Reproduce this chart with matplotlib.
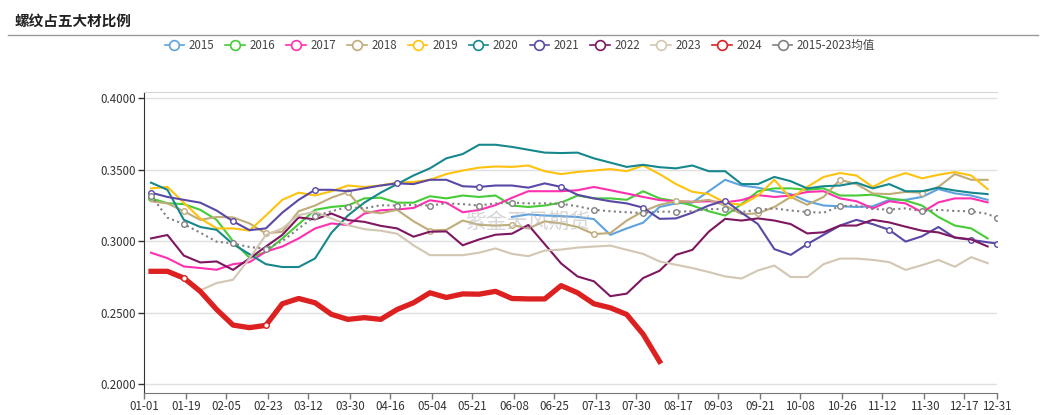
import numpy as np
import pandas as pd
import matplotlib
matplotlib.use('Agg')
from matplotlib import pyplot as plt
from matplotlib.lines import Line2D

plt.rcParams['font.family'] = ['Noto Sans CJK SC', 'DejaVu Sans']

# 周度数据（每年 52 周 + 年末一点）
week_days = np.append(np.arange(52) * 7 + 3, 364)

tick_labels = ['01-01', '01-19', '02-05', '02-23', '03-12', '03-30', '04-16', '05-04',
               '05-21', '06-08', '06-25', '07-13', '07-30', '08-17', '09-03', '09-21',
               '10-08', '10-26', '11-12', '11-30', '12-17', '12-31']

y2015 = [None] * 22 + [0.317, 0.3188, 0.318, 0.3176, 0.317, 0.3155, 0.3045, 0.309, 0.313, 0.324,
                       0.3265, 0.327, 0.335, 0.343, 0.339, 0.3375, 0.335, 0.333, 0.328, 0.325,
                       0.3245, 0.324, 0.3245, 0.329, 0.329, 0.331, 0.3365, 0.3335, 0.332, 0.329, None]
y2016 = [0.330, 0.3266, 0.326, 0.322, 0.315, 0.300, 0.2885, 0.2925, 0.302, 0.312, 0.322, 0.324,
         0.325, 0.330, 0.3305, 0.327, 0.327, 0.3315, 0.330, 0.332, 0.331, 0.332, 0.325, 0.324,
         0.325, 0.327, 0.332, 0.330, 0.330, 0.329, 0.335, 0.330, 0.328, 0.325, 0.321, 0.318,
         0.326, 0.335, 0.337, 0.337, 0.336, 0.337, 0.332, 0.332, 0.3326, 0.330, 0.3285, 0.325,
         0.317, 0.311, 0.309, 0.302, None]
y2017 = [0.292, 0.2882, 0.2824, 0.2813, 0.2801, 0.284, 0.2854, 0.2928, 0.2963, 0.302, 0.309, 0.3125,
         0.3113, 0.3194, 0.3217, 0.3222, 0.3233, 0.3287, 0.327, 0.3203, 0.3219, 0.3253, 0.3304, 0.335,
         0.335, 0.335, 0.3357, 0.338, 0.3357, 0.3334, 0.331, 0.3288, 0.328, 0.3276, 0.328, 0.3272,
         0.3288, 0.3323, 0.331, 0.332, 0.3345, 0.335, 0.330, 0.328, 0.323, 0.328, 0.3265, 0.3203,
         0.3272, 0.330, 0.330, 0.3272, None]
y2018 = [0.328, 0.3265, 0.321, 0.315, 0.317, 0.3167, 0.3125, 0.3055, 0.3067, 0.321, 0.325, 0.3305,
         0.3345, 0.321, 0.3196, 0.322, 0.314, 0.3075, 0.308, 0.3145, 0.3115, 0.311, 0.3115, 0.309,
         0.314, 0.3125, 0.310, 0.305, 0.3058, 0.3145, 0.321, 0.3255, 0.328, 0.3276, 0.329, 0.325,
         0.319, 0.3195, 0.324, 0.331, 0.3255, 0.331, 0.343, 0.340, 0.3334, 0.333, 0.3345, 0.334,
         0.338, 0.347, 0.343, 0.343, None]
y2019 = [0.337, 0.338, 0.327, 0.316, 0.309, 0.309, 0.3075, 0.318, 0.329, 0.334, 0.332, 0.335,
         0.339, 0.338, 0.339, 0.341, 0.3415, 0.343, 0.347, 0.3495, 0.3515, 0.3523, 0.352, 0.353,
         0.349, 0.347, 0.3485, 0.3495, 0.3505, 0.349, 0.353, 0.347, 0.340, 0.3346, 0.333, 0.327,
         0.3255, 0.332, 0.343, 0.330, 0.338, 0.345, 0.3477, 0.346, 0.338, 0.344, 0.3477, 0.344,
         0.3465, 0.3484, 0.346, 0.3365, None]
y2020 = [0.341, 0.336, 0.315, 0.310, 0.308, 0.298, 0.291, 0.284, 0.282, 0.282, 0.288, 0.306,
         0.318, 0.327, 0.334, 0.340, 0.346, 0.351, 0.358, 0.361, 0.3675, 0.3675, 0.366, 0.364,
         0.362, 0.3617, 0.362, 0.358, 0.355, 0.352, 0.3535, 0.3518, 0.351, 0.353, 0.349, 0.349,
         0.340, 0.340, 0.345, 0.342, 0.337, 0.3385, 0.339, 0.341, 0.337, 0.340, 0.335, 0.335,
         0.3375, 0.3355, 0.334, 0.333, None]
y2021 = [0.334, 0.331, 0.329, 0.327, 0.3215, 0.314, 0.3078, 0.309, 0.320, 0.329, 0.336, 0.336,
         0.335, 0.337, 0.339, 0.3405, 0.340, 0.343, 0.343, 0.3385, 0.338, 0.339, 0.339, 0.3375,
         0.3405, 0.338, 0.3325, 0.330, 0.328, 0.3265, 0.3235, 0.3157, 0.316, 0.320, 0.325, 0.3285,
         0.320, 0.312, 0.2945, 0.2905, 0.298, 0.3045, 0.311, 0.315, 0.312, 0.308, 0.2998, 0.3035,
         0.310, 0.3025, 0.301, 0.2993, 0.2984]
y2022 = [0.302, 0.3044, 0.290, 0.2852, 0.2859, 0.280, 0.288, 0.2963, 0.3044, 0.3167, 0.3153, 0.3194,
         0.3148, 0.3136, 0.3108, 0.309, 0.3032, 0.3067, 0.3069, 0.2972, 0.3013, 0.3046, 0.3053, 0.3114,
         0.298, 0.2845, 0.2754, 0.272, 0.2616, 0.2634, 0.2743, 0.2794, 0.2905, 0.294, 0.3067, 0.3157,
         0.3145, 0.316, 0.3145, 0.312, 0.3055, 0.3063, 0.311, 0.311, 0.315, 0.3132, 0.3102, 0.3074,
         0.3062, 0.3027, 0.3013, 0.2964, None]
y2023 = [0.279, 0.278, 0.273, 0.2657, 0.2708, 0.2731, 0.288, 0.3044, 0.309, 0.3183, 0.3206, 0.316,
         0.3113, 0.3085, 0.3074, 0.3053, 0.2972, 0.2903, 0.2903, 0.2903, 0.292, 0.295, 0.2912, 0.2896,
         0.2935, 0.2942, 0.2956, 0.2963, 0.297, 0.294, 0.2912, 0.2859, 0.2836, 0.2813, 0.2785, 0.2754,
         0.274, 0.2796, 0.283, 0.275, 0.275, 0.284, 0.2879, 0.2879, 0.287, 0.2854, 0.280, 0.2833,
         0.287, 0.2822, 0.2889, 0.2847, None]
y2024 = [0.279, 0.279, 0.2743, 0.265, 0.2523, 0.2414, 0.2396, 0.2412, 0.2563, 0.260, 0.257, 0.2489,
         0.2454, 0.2466, 0.2454, 0.2523, 0.257, 0.264, 0.2607, 0.2632, 0.263, 0.265, 0.260, 0.2597,
         0.2597, 0.269, 0.264, 0.2563, 0.2535, 0.2488, 0.235, 0.216] + [None] * 21
y_avg = [0.332, 0.3165, 0.312, 0.306, 0.2997, 0.2985, 0.296, 0.2948, 0.300, 0.309, 0.3175, 0.321,
         0.324, 0.323, 0.3252, 0.325, 0.3255, 0.325, 0.3265, 0.326, 0.325, 0.3265, 0.327, 0.3265,
         0.3265, 0.3262, 0.3245, 0.322, 0.321, 0.3203, 0.3198, 0.3207, 0.3207, 0.321, 0.3225, 0.3225,
         0.3205, 0.322, 0.323, 0.3215, 0.3205, 0.320, 0.3245, 0.325, 0.3225, 0.3222, 0.323, 0.321,
         0.322, 0.3212, 0.321, 0.3192, 0.316]

series = [
    ('2015', y2015, '#5fa2e0'),
    ('2016', y2016, '#46cc38'),
    ('2017', y2017, '#ff30b0'),
    ('2018', y2018, '#bfac78'),
    ('2019', y2019, '#ffc20e'),
    ('2020', y2020, '#16878c'),
    ('2021', y2021, '#5a48a6'),
    ('2022', y2022, '#7e1660'),
    ('2023', y2023, '#d3c6b2'),
    ('2024', y2024, '#dd2020'),
    ('2015-2023均值', y_avg, '#808080'),
]

# 有空心点标记的位置
marks = {
    '2016': [0],
    '2018': [2, 7, 12, 17, 22, 27, 32, 37, 42, 47],
    '2021': [0, 5, 10, 15, 20, 25, 30, 35, 40, 45, 50, 52],
    '2024': [2, 7],
    '2015-2023均值': [0, 2, 5, 7, 10, 12, 15, 17, 20, 22, 25, 27, 30, 32, 35, 37, 40, 42,
                   45, 47, 50, 52],
}

tick_days = [pd.Timestamp('2023-' + t).dayofyear - 1 for t in tick_labels]

fig = plt.figure(figsize=(10.44, 4.15), dpi=100)
ax = fig.add_axes([144 / 1044, 1 - 393.3 / 415, (997 - 144) / 1044, (393.3 - 91.7) / 415])

handles = []
for name, vals, color in series:
    y = np.array([np.nan if v is None else v for v in vals], dtype=float)
    lw = 1.5
    ls = '-'
    z = 3
    if name == '2024':
        lw = 3.8
        z = 6
    if name == '2015-2023均值':
        ls = (0, (1, 1.6))
        z = 5
    kw = {}
    if name in marks:
        kw = dict(marker='o', markevery=marks[name], markersize=4,
                  markerfacecolor='white', markeredgecolor=color, markeredgewidth=1)
    ax.plot(week_days, y, color=color, lw=lw, linestyle=ls, zorder=z,
            solid_joinstyle='round', **kw)
    handles.append(Line2D([], [], color=color, lw=1.2, marker='o', markersize=7,
                          markerfacecolor='white', markeredgecolor=color,
                          markeredgewidth=1.2))

ax.set_xlim(0, 364)
ax.set_ylim(0.1937, 0.4046)
ax.set_xticks(tick_days)
ax.set_xticklabels(tick_labels)
ax.set_yticks([0.20, 0.25, 0.30, 0.35, 0.40])
ax.set_yticklabels(['%.4f' % v for v in [0.20, 0.25, 0.30, 0.35, 0.40]])
ax.tick_params(axis='both', labelsize=8.3, colors='#333333', length=4, width=1, pad=2)
ax.tick_params(axis='x', colors='#777777', labelcolor='#333333', length=4, pad=1)
ax.grid(axis='y', color='#e0e0e0', lw=1)
ax.set_axisbelow(True)
ax.spines['right'].set_visible(False)
ax.spines['top'].set_color('#d6d6d6')
ax.spines['left'].set_color('#333333')
ax.spines['bottom'].set_color('#777777')

ax.text(0.45, 0.57, '紫金天风期货', transform=ax.transAxes, fontsize=15,
        color='#bbbbbb', alpha=0.6, ha='center', va='center', zorder=7)

fig.text(15 / 1044, 1 - 21 / 415, '螺纹占五大材比例', fontsize=10.5, fontweight='bold',
         va='center', ha='left', color='#222222')
fig.add_artist(Line2D([8 / 1044, 1038 / 1044], [1 - 35.5 / 415] * 2, color='#999999', lw=1))

fig.legend(handles, [s[0] for s in series], loc='center', bbox_to_anchor=(0.498, 1 - 45.5 / 415),
           ncol=11, frameon=False, fontsize=8.3, handlelength=1.7, handletextpad=0.4,
           columnspacing=0.95, labelcolor='#444444')

fig.savefig('out.png', dpi=100)
